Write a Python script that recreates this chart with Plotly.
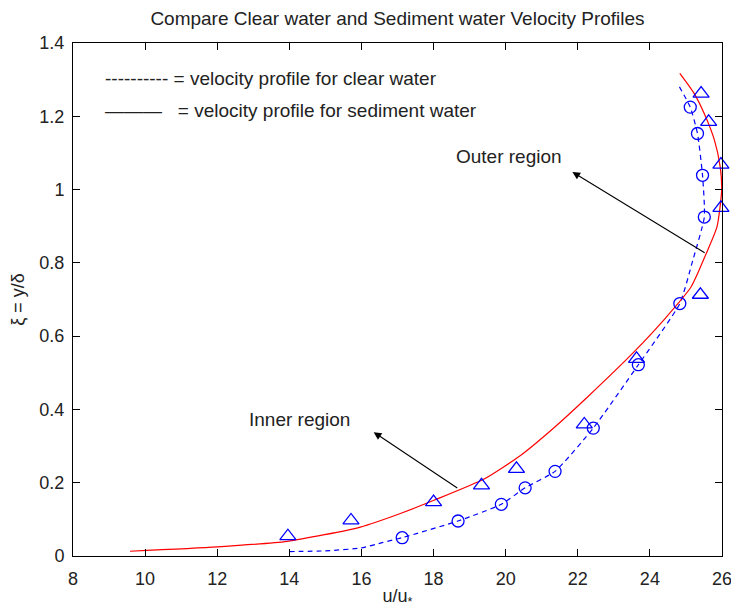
import plotly.graph_objects as go

# Measured velocity data (u/u*, xi = y/delta)
sed_u = [13.96, 15.71, 18.0, 19.33, 20.3, 22.18, 23.63, 25.4, 25.97, 25.97, 25.63, 25.42]
sed_xi = [0.054, 0.097, 0.147, 0.193, 0.238, 0.359, 0.538, 0.713, 0.950, 1.068, 1.185, 1.262]

clear_u = [17.13, 18.68, 19.88, 20.54, 21.37, 22.43, 23.68, 24.83, 25.51, 25.46, 25.32, 25.12]
clear_xi = [0.050, 0.0955, 0.141, 0.186, 0.231, 0.349, 0.522, 0.689, 0.925, 1.039, 1.153, 1.225]

# Velocity profile curves
sed_curve_u = [9.58, 12.0, 13.94, 15.97, 17.08, 18.01, 19.4, 20.42, 21.34, 22.27, 23.56,
               24.42, 25.14, 25.56, 25.86, 25.99, 25.95, 25.79, 25.51, 25.23, 24.83]
sed_curve_xi = [0.013, 0.025, 0.040, 0.079, 0.116, 0.152, 0.210, 0.275, 0.350, 0.434, 0.557,
                0.648, 0.734, 0.825, 0.898, 0.998, 1.062, 1.135, 1.207, 1.262, 1.317]

clear_curve_u = [14.0, 15.0, 16.0, 16.6, 17.13, 18.68, 19.88, 20.54, 21.37, 22.43, 23.68,
                 24.83, 25.19, 25.51, 25.46, 25.32, 25.12, 24.77]
clear_curve_xi = [0.012, 0.014, 0.022, 0.037, 0.050, 0.0955, 0.141, 0.186, 0.231, 0.349, 0.522,
                  0.689, 0.807, 0.925, 1.039, 1.153, 1.225, 1.289]

x_ticks = [8, 10, 12, 14, 16, 18, 20, 22, 24, 26]
y_ticks = [0, 0.2, 0.4, 0.6, 0.8, 1, 1.2, 1.4]

FONT = "Liberation Sans, Arial, sans-serif"
TXT = "#222222"
BLUE = "#0000ff"
RED = "#ff0000"

fig = go.Figure()

fig.add_trace(go.Scatter(x=clear_curve_u, y=clear_curve_xi, mode="lines",
                         line=dict(color=BLUE, width=1.2, dash="5px,4px", shape="spline", smoothing=0.5),
                         hoverinfo="skip"))
fig.add_trace(go.Scatter(x=sed_curve_u, y=sed_curve_xi, mode="lines",
                         line=dict(color=RED, width=1.2, shape="spline", smoothing=0.6),
                         hoverinfo="skip"))
fig.add_trace(go.Scatter(x=clear_u, y=clear_xi, mode="markers", cliponaxis=False,
                         marker=dict(symbol="circle-open", size=12, color=BLUE, line=dict(width=1.3))))
fig.add_trace(go.Scatter(x=sed_u, y=sed_xi, mode="markers", cliponaxis=False,
                         marker=dict(symbol="triangle-up-open", size=14, color=BLUE, line=dict(width=1.3))))

annotations = [
    dict(x=8.83, y=1.304, xref="x", yref="y", xanchor="left", yanchor="middle", showarrow=False,
         text="---------- = velocity profile for clear water", font=dict(size=19, color=TXT, family=FONT)),
    dict(x=8.83, y=1.216, xref="x", yref="y", xanchor="left", yanchor="middle", showarrow=False,
         text="\u2014\u2014\u2014   = velocity profile for sediment water", font=dict(size=19, color=TXT, family=FONT)),
    dict(x=20.1, y=1.089, xref="x", yref="y", showarrow=False,
         text="Outer region", font=dict(size=19, color=TXT, family=FONT)),
    dict(x=14.29, y=0.372, xref="x", yref="y", showarrow=False,
         text="Inner region", font=dict(size=19, color=TXT, family=FONT)),
    dict(x=21.85, y=1.048, ax=25.56, ay=0.825, xref="x", yref="y", axref="x", ayref="y",
         text="", showarrow=True, arrowhead=2, arrowsize=1.4, arrowwidth=1.1, arrowcolor="#000000", standoff=0),
    dict(x=16.34, y=0.338, ax=18.70, ay=0.183, xref="x", yref="y", axref="x", ayref="y",
         text="", showarrow=True, arrowhead=2, arrowsize=1.4, arrowwidth=1.1, arrowcolor="#000000", standoff=0),
]

axis_common = dict(showline=True, linecolor="#000000", linewidth=1, mirror="ticks",
                   ticks="inside", ticklen=7, tickcolor="#000000", tickwidth=1,
                   showgrid=False, zeroline=False, ticklabeloverflow="allow", automargin=False,
                   tickfont=dict(size=18, color=TXT, family=FONT))

fig.update_layout(
    width=731, height=609,
    margin=dict(l=73, r=9, t=43, b=53),
    paper_bgcolor="white", plot_bgcolor="white",
    showlegend=False,
    title=dict(text="Compare Clear water and Sediment water Velocity Profiles",
               x=0.5, xref="paper", y=1 - 18 / 609, yref="container", yanchor="middle",
               font=dict(size=19, color=TXT, family=FONT)),
    xaxis=dict(range=[8, 26], tickvals=x_ticks, ticktext=[str(v) for v in x_ticks],
               title=dict(text="u/u<sub>*</sub>", font=dict(size=18, color=TXT, family=FONT), standoff=4),
               ticklabelstandoff=6, **axis_common),
    yaxis=dict(range=[0, 1.4], tickvals=y_ticks, ticktext=[str(v) for v in y_ticks],
               title=dict(text="\u03be = y/\u03b4", font=dict(size=18, color=TXT, family=FONT), standoff=10),
               ticklabelstandoff=4, **axis_common),
    annotations=annotations,
)

fig.write_html("out.html")
